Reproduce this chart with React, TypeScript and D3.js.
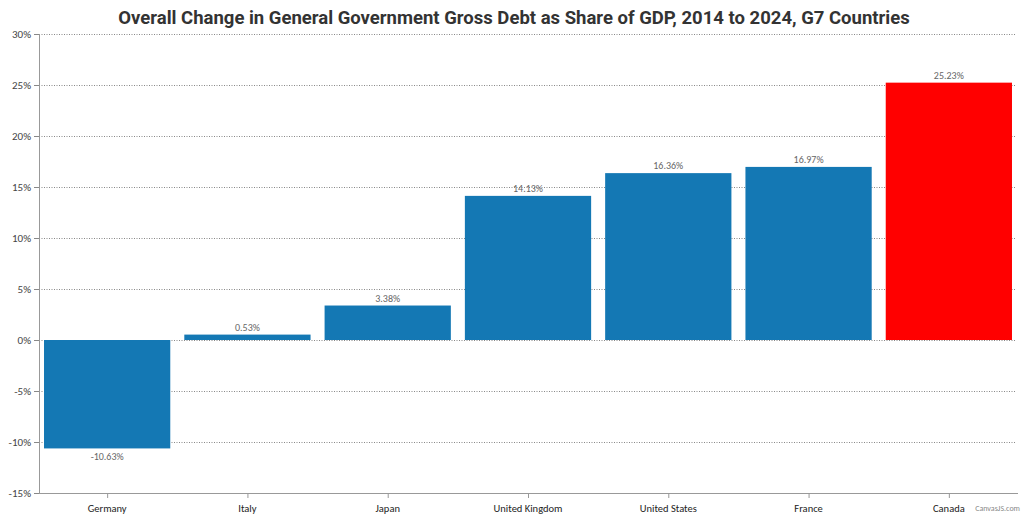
import React from 'react';
import * as d3 from 'd3';

const countries = ['Germany', 'Italy', 'Japan', 'United Kingdom', 'United States', 'France', 'Canada'];
const changes = [-10.63, 0.53, 3.38, 14.13, 16.36, 16.97, 25.23];
const highlight = 'Canada';
const yTicks = [-15, -10, -5, 0, 5, 10, 15, 20, 25, 30];

const W = 1024;
const H = 514;

export default function App() {
  const x = d3.scaleBand().domain(countries).range([37, 1019]).paddingInner(0.1).paddingOuter(0.05);
  const y = d3.scaleLinear().domain([-15, 30]).range([493, 34]);
  const font = 'Calibri, Carlito, "Open Sans", "DejaVu Sans", sans-serif';

  return (
    <svg width={W} height={H} style={{ position: 'absolute', left: 0, top: 0, background: '#fff' }}>
      <text x={514} y={24} textAnchor="middle" fontFamily='"Liberation Sans Narrow", "Arial Narrow", Roboto, sans-serif'
        fontWeight="bold" fontSize={18.5} fill="#333">
        Overall Change in General Government Gross Debt as Share of GDP, 2014 to 2024, G7 Countries
      </text>
      {yTicks.map(t => (
        <g key={t}>
          <line x1={39} x2={1016} y1={y(t) + 0.5} y2={y(t) + 0.5} stroke="#888" strokeDasharray="1,1.5" strokeWidth={1} />
          <line x1={34} x2={39} y1={y(t) + 0.5} y2={y(t) + 0.5} stroke="#888" />
          <text x={31} y={y(t) + 4} textAnchor="end" fontFamily={font} fontSize={11} fill="#444">{t}%</text>
        </g>
      ))}
      <line x1={39.5} x2={39.5} y1={34} y2={493} stroke="#999" />
      <line x1={39} x2={1018} y1={493.5} y2={493.5} stroke="#999" />
      {countries.map((c, i) => {
        const v = changes[i];
        const bx = x(c) as number;
        const top = y(Math.max(0, v));
        const h = Math.abs(y(v) - y(0));
        const cx = bx + x.bandwidth() / 2;
        return (
          <g key={c}>
            <rect x={bx} y={top} width={x.bandwidth()} height={h} fill={c === highlight ? '#FF0000' : '#1478B4'} />
            <text x={cx} y={v >= 0 ? y(v) - 4 : y(v) + 12} textAnchor="middle" fontFamily={font} fontSize={10} fill="#666">
              {v.toFixed(2)}%
            </text>
            <line x1={cx + 0.5} x2={cx + 0.5} y1={493} y2={498} stroke="#999" />
            <text x={cx} y={512} textAnchor="middle" fontFamily={font} fontSize={10.5} fill="#222">{c}</text>
          </g>
        );
      })}
      <text x={1020} y={511} textAnchor="end" fontFamily={font} fontSize={8} fill="#888">CanvasJS.com</text>
    </svg>
  );
}
